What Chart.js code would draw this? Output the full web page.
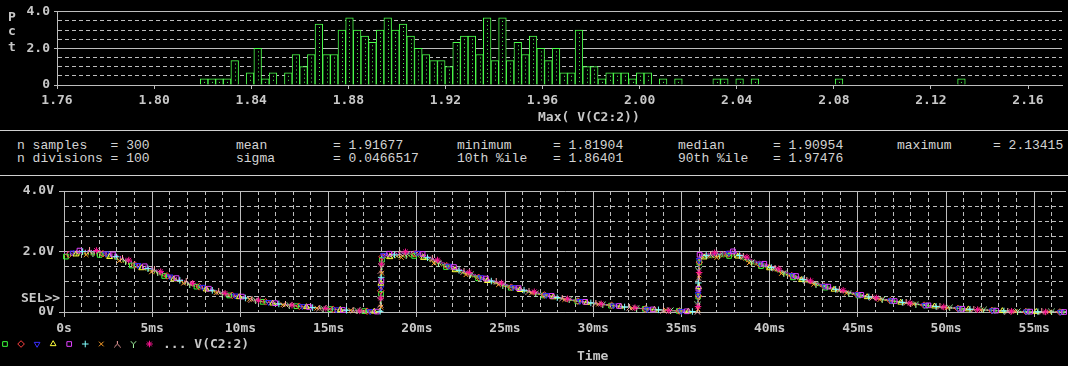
<!DOCTYPE html>
<html lang="en">
<head>
  <meta charset="UTF-8" />
  <title>Monte Carlo - Max( V(C2:2))</title>
  <script src="https://cdn.jsdelivr.net/npm/chart.js"></script>
  <style>
    body { margin: 0; background: #000; }
    #wrap {
      position: relative; width: 1068px; height: 366px; background: #000; overflow: hidden;
      color: #c8c8c8; font-family: 'DejaVu Sans Mono', monospace;
    }
    .lbl { position: absolute; white-space: pre; font-size: 13px; font-weight: bold; line-height: 13px; }
    .st { position: absolute; white-space: pre; font-family: 'Liberation Mono', monospace; font-size: 13px; line-height: 13px; color: #d4d4d4; }
    .sep { position: absolute; left: 0; width: 1068px; height: 1px; background: #cfcfcf; }
    #hist { position: absolute; left: 0; top: 0; }
    #trace { position: absolute; left: 0; top: 177px; }
  </style>
</head>
<body>
<div id="wrap">
  <canvas id="hist" width="1068" height="128"></canvas>
  <canvas id="trace" width="1068" height="189"></canvas>

  <div class="lbl" style="left:8px;top:10px">P</div>
  <div class="lbl" style="left:8px;top:24px">c</div>
  <div class="lbl" style="left:8px;top:40px">t</div>
  <div class="lbl" style="left:538px;top:110px">Max( V(C2:2))</div>

  <div class="sep" style="top:130px"></div>
  <div class="sep" style="top:175px"></div>

  <div class="st" style="left:17px;top:139px">n samples   = 300</div>
  <div class="st" style="left:236px;top:139px">mean</div>
  <div class="st" style="left:333px;top:139px">= 1.91677</div>
  <div class="st" style="left:457px;top:139px">minimum</div>
  <div class="st" style="left:553px;top:139px">= 1.81904</div>
  <div class="st" style="left:678px;top:139px">median</div>
  <div class="st" style="left:773px;top:139px">= 1.90954</div>
  <div class="st" style="left:897px;top:139px">maximum</div>
  <div class="st" style="left:993px;top:139px">= 2.13415</div>
  <div class="st" style="left:17px;top:152px">n divisions = 100</div>
  <div class="st" style="left:236px;top:152px">sigma</div>
  <div class="st" style="left:333px;top:152px">= 0.0466517</div>
  <div class="st" style="left:457px;top:152px">10th %ile</div>
  <div class="st" style="left:553px;top:152px">= 1.86401</div>
  <div class="st" style="left:678px;top:152px">90th %ile</div>
  <div class="st" style="left:773px;top:152px">= 1.97476</div>

  <div class="lbl" style="left:21px;top:291px">SEL&gt;&gt;</div>
  <div class="lbl" style="left:163px;top:337px">... V(C2:2)</div>
  <div class="lbl" style="left:577px;top:349px">Time</div>
</div>

<script>
  // histogram: samples per bin (100 bins between minimum and maximum)
  const nSamples = 300;
  const nDivisions = 100;
  const minimum = 1.81904;
  const maximum = 2.13415;
  const binCounts = [
    1, 1, 1, 1, 4, 0, 2, 6, 1, 2,
    0, 2, 5, 3, 5, 10, 5, 5, 9, 11,
    9, 8, 7, 9, 11, 9, 10, 8, 6, 5,
    4, 4, 3, 7, 8, 8, 5, 11, 4, 11,
    4, 7, 5, 8, 6, 4, 6, 2, 2, 9,
    3, 3, 1, 2, 2, 2, 1, 2, 2, 0,
    1, 0, 1, 0, 0, 0, 0, 1, 1, 0,
    1, 0, 1, 0, 0, 0, 0, 0, 0, 0,
    0, 0, 0, 1, 0, 0, 0, 0, 0, 0,
    0, 0, 0, 0, 0, 0, 0, 0, 0, 1
  ];

  // transient traces, time in ms
  const timeMs = [
    0, 1, 2, 3, 4, 5, 6, 7, 8, 9, 10, 11, 12, 13, 14, 15, 16, 17, 17.92, 17.96, 17.99, 18.03,
    19, 20, 21, 22, 23, 24, 25, 26, 27, 28, 29, 30, 31, 32, 33, 34, 35, 35.92, 35.96, 35.99, 36.03,
    37, 38, 39, 40, 41, 42, 43, 44, 45, 46, 47, 48, 49, 50, 51, 52, 53, 54, 55, 56, 56.8
  ];
  const run1 = [
    1.82, 1.92, 1.89, 1.75, 1.50, 1.34, 1.12, 0.92, 0.76, 0.58, 0.49, 0.36, 0.27, 0.20, 0.15, 0.10, 0.06, 0.03, 0.01, 0.30, 1.10, 1.79,
    1.82, 1.86, 1.63, 1.41, 1.20, 1.02, 0.85, 0.70, 0.57, 0.46, 0.36, 0.28, 0.21, 0.15, 0.10, 0.06, 0.03, 0.01, 0.62, 1.45, 1.78,
    1.81, 1.87, 1.60, 1.44, 1.21, 1.01, 0.83, 0.68, 0.55, 0.44, 0.35, 0.27, 0.20, 0.15, 0.10, 0.07, 0.04, 0.02, 0.01, 0.00, 0.00
  ];
  const run2 = [
    1.87, 1.98, 1.96, 1.81, 1.56, 1.37, 1.16, 0.96, 0.77, 0.61, 0.50, 0.38, 0.28, 0.21, 0.15, 0.10, 0.06, 0.03, 0.01, 0.80, 1.50, 1.85,
    1.88, 1.93, 1.69, 1.46, 1.23, 1.06, 0.87, 0.73, 0.59, 0.48, 0.37, 0.29, 0.22, 0.15, 0.10, 0.06, 0.03, 0.01, 0.25, 1.05, 1.83,
    1.87, 1.94, 1.66, 1.47, 1.26, 1.04, 0.87, 0.70, 0.58, 0.45, 0.36, 0.28, 0.21, 0.15, 0.10, 0.07, 0.04, 0.02, 0.01, 0.00, 0.00
  ];
  const run3 = [
    1.91, 2.01, 1.99, 1.84, 1.58, 1.41, 1.17, 0.97, 0.80, 0.61, 0.51, 0.38, 0.29, 0.22, 0.16, 0.10, 0.06, 0.03, 0.01, 0.45, 1.25, 1.88,
    1.92, 1.96, 1.71, 1.48, 1.27, 1.07, 0.90, 0.73, 0.60, 0.48, 0.38, 0.30, 0.22, 0.15, 0.10, 0.06, 0.03, 0.01, 0.90, 1.60, 1.87,
    1.91, 1.97, 1.68, 1.51, 1.28, 1.06, 0.88, 0.71, 0.58, 0.46, 0.37, 0.29, 0.21, 0.15, 0.10, 0.07, 0.04, 0.02, 0.01, 0.00, 0.00
  ];
  const run4 = [
    1.84, 1.94, 1.91, 1.76, 1.52, 1.35, 1.13, 0.93, 0.76, 0.59, 0.49, 0.36, 0.27, 0.21, 0.15, 0.10, 0.06, 0.03, 0.01, 1.00, 1.70, 1.80,
    1.84, 1.88, 1.65, 1.42, 1.22, 1.03, 0.86, 0.71, 0.58, 0.46, 0.36, 0.28, 0.22, 0.15, 0.10, 0.06, 0.03, 0.01, 0.40, 1.20, 1.80,
    1.83, 1.89, 1.62, 1.45, 1.23, 1.02, 0.84, 0.69, 0.56, 0.44, 0.35, 0.27, 0.21, 0.15, 0.10, 0.07, 0.04, 0.02, 0.01, 0.00, 0.00
  ];
  const run5 = [
    1.96, 2.04, 2.02, 1.87, 1.61, 1.44, 1.20, 0.99, 0.81, 0.62, 0.52, 0.38, 0.29, 0.22, 0.16, 0.10, 0.06, 0.03, 0.01, 0.20, 0.95, 1.91,
    1.95, 2.00, 1.75, 1.51, 1.29, 1.09, 0.92, 0.75, 0.61, 0.49, 0.38, 0.30, 0.23, 0.16, 0.10, 0.06, 0.03, 0.01, 0.70, 1.35, 1.91,
    1.94, 2.01, 1.72, 1.54, 1.30, 1.08, 0.89, 0.73, 0.59, 0.47, 0.37, 0.29, 0.22, 0.16, 0.10, 0.07, 0.04, 0.02, 0.01, 0.00, 0.00
  ];
  const run6 = [
    1.89, 2.00, 1.97, 1.82, 1.57, 1.39, 1.16, 0.96, 0.79, 0.61, 0.50, 0.37, 0.28, 0.21, 0.15, 0.10, 0.06, 0.03, 0.01, 0.65, 1.40, 1.86,
    1.90, 1.94, 1.70, 1.46, 1.25, 1.06, 0.89, 0.73, 0.60, 0.47, 0.37, 0.29, 0.22, 0.15, 0.10, 0.06, 0.03, 0.01, 1.10, 1.75, 1.86,
    1.89, 1.95, 1.67, 1.49, 1.26, 1.05, 0.87, 0.71, 0.58, 0.45, 0.36, 0.28, 0.21, 0.15, 0.10, 0.07, 0.04, 0.02, 0.01, 0.00, 0.00
  ];
  const run7 = [
    1.80, 1.90, 1.87, 1.73, 1.49, 1.32, 1.10, 0.91, 0.75, 0.58, 0.48, 0.36, 0.27, 0.20, 0.14, 0.10, 0.06, 0.03, 0.01, 0.10, 0.70, 1.77,
    1.80, 1.84, 1.61, 1.39, 1.19, 1.01, 0.84, 0.69, 0.57, 0.45, 0.36, 0.28, 0.21, 0.14, 0.10, 0.06, 0.03, 0.01, 0.15, 0.85, 1.77,
    1.80, 1.85, 1.58, 1.42, 1.20, 1.00, 0.83, 0.67, 0.55, 0.43, 0.35, 0.27, 0.20, 0.14, 0.10, 0.07, 0.04, 0.02, 0.01, 0.00, 0.00
  ];
  const run8 = [
    1.93, 2.03, 2.00, 1.85, 1.60, 1.42, 1.18, 0.98, 0.80, 0.62, 0.51, 0.38, 0.29, 0.22, 0.15, 0.10, 0.06, 0.03, 0.01, 1.20, 1.80, 1.90,
    1.93, 1.98, 1.73, 1.49, 1.28, 1.08, 0.91, 0.74, 0.61, 0.48, 0.38, 0.30, 0.23, 0.15, 0.10, 0.06, 0.03, 0.01, 0.55, 1.50, 1.89,
    1.92, 1.99, 1.70, 1.52, 1.29, 1.07, 0.89, 0.72, 0.59, 0.46, 0.37, 0.29, 0.22, 0.15, 0.10, 0.07, 0.04, 0.02, 0.01, 0.00, 0.00
  ];
  const run9 = [
    1.86, 1.96, 1.93, 1.78, 1.53, 1.37, 1.14, 0.94, 0.77, 0.59, 0.50, 0.37, 0.28, 0.21, 0.15, 0.10, 0.06, 0.03, 0.01, 0.35, 1.15, 1.82,
    1.86, 1.90, 1.66, 1.44, 1.23, 1.04, 0.87, 0.71, 0.58, 0.47, 0.37, 0.29, 0.22, 0.15, 0.10, 0.06, 0.03, 0.01, 1.30, 1.65, 1.82,
    1.85, 1.91, 1.63, 1.47, 1.24, 1.03, 0.85, 0.69, 0.56, 0.45, 0.36, 0.28, 0.21, 0.15, 0.10, 0.07, 0.04, 0.02, 0.01, 0.00, 0.00
  ];
  const run10 = [
    1.97, 2.05, 2.03, 1.89, 1.63, 1.45, 1.21, 1.00, 0.82, 0.63, 0.53, 0.39, 0.29, 0.22, 0.16, 0.11, 0.06, 0.03, 0.01, 0.55, 1.60, 1.93,
    1.97, 2.02, 1.76, 1.52, 1.30, 1.10, 0.92, 0.76, 0.62, 0.49, 0.39, 0.30, 0.23, 0.16, 0.11, 0.06, 0.03, 0.01, 0.35, 1.00, 1.93,
    1.96, 2.03, 1.73, 1.55, 1.31, 1.09, 0.90, 0.74, 0.60, 0.47, 0.38, 0.29, 0.22, 0.16, 0.11, 0.07, 0.04, 0.02, 0.01, 0.00, 0.00
  ];
  const runs = [run1, run2, run3, run4, run5, run6, run7, run8, run9, run10];
  const runColours = ['#3cff3c', '#ff4040', '#3a2cff', '#ffff3c', '#e040ff', '#80ffff', '#ffa028', '#ffa8a8', '#a8ffa8', '#ff1493'];

  const GRID = '#bdbdbd';
  const TXT = '#c8c8c8';
  const BAR = '#4cff4c';
  const FONT = { family: "'DejaVu Sans Mono', monospace", size: 13, weight: 'bold' };
  const MARK_STEP = 34;   // px between symbols along one trace

  // small marker images for the Y shaped symbols
  function yGlyph(colour, turned) {
    const c = document.createElement('canvas');
    c.width = 7; c.height = 7;
    const g = c.getContext('2d');
    g.strokeStyle = colour;
    g.lineWidth = 1;
    g.beginPath();
    if (turned) {
      g.moveTo(3.5, 0); g.lineTo(3.5, 3.5);
      g.lineTo(0.5, 6.5); g.moveTo(3.5, 3.5); g.lineTo(6.5, 6.5);
    } else {
      g.moveTo(0.5, 0.5); g.lineTo(3.5, 3.5);
      g.lineTo(6.5, 0.5); g.moveTo(3.5, 3.5); g.lineTo(3.5, 7);
    }
    g.stroke();
    return c;
  }
  const runStyles = ['rect', 'rectRot', 'triangle', 'triangle', 'rect', 'cross', 'crossRot',
    yGlyph(runColours[7], true), yGlyph(runColours[8], false), 'star'];
  const runRotation = [0, 0, 180, 0, 0, 0, 0, 0, 0, 0];

  function mark(ctx, i, x, y) {
    ctx.save();
    ctx.strokeStyle = runColours[i];
    ctx.fillStyle = 'rgba(0,0,0,0)';
    ctx.lineWidth = 1;
    ctx.setLineDash([]);
    Chart.helpers.drawPoint(ctx, { pointStyle: runStyles[i], rotation: runRotation[i], radius: 3.3, borderWidth: 1 }, x, y);
    ctx.restore();
  }

  // ---------- histogram ----------
  const binWidth = (maximum - minimum) / nDivisions;
  const histPoints = binCounts.map((n, i) => ({ x: minimum + (i + 0.5) * binWidth, y: n * 100 / nSamples }));

  const centreDots = {
    id: 'centreDots',
    afterDatasetsDraw(chart) {
      const ctx = chart.ctx;
      ctx.save();
      ctx.strokeStyle = BAR;
      ctx.lineWidth = 1;
      ctx.setLineDash([1, 3]);
      chart.getDatasetMeta(0).data.forEach(bar => {
        if (bar.base - bar.y < 5) return;
        const x = Math.round(bar.x) + 0.5;
        ctx.beginPath();
        ctx.moveTo(x, bar.y + 3);
        ctx.lineTo(x, bar.base - 1);
        ctx.stroke();
      });
      ctx.restore();
    }
  };

  new Chart(document.getElementById('hist'), {
    type: 'bar',
    data: {
      datasets: [{
        data: histPoints,
        backgroundColor: '#000',
        borderColor: BAR,
        borderWidth: 1,
        borderSkipped: 'bottom',
        barPercentage: 1,
        categoryPercentage: 1
      }]
    },
    options: {
      responsive: false,
      animation: false,
      events: [],
      layout: { padding: { top: 8, right: 6, left: 0, bottom: 0 } },
      plugins: { legend: { display: false }, tooltip: { enabled: false } },
      scales: {
        x: {
          type: 'linear', min: 1.76, max: 2.174, offset: false,
          ticks: { stepSize: 0.04, includeBounds: false, autoSkip: false, maxRotation: 0, color: TXT, font: FONT, padding: 4,
                   callback: v => v.toFixed(2) },
          grid: { offset: false, drawOnChartArea: false, drawTicks: true, tickLength: 4, tickColor: GRID },
          border: { color: GRID },
          afterFit: s => { s.height = 43; }
        },
        y: {
          min: 0, max: 4,
          ticks: { stepSize: 0.5, autoSkip: false, color: TXT, font: FONT, padding: 4,
                   callback: v => v === 0 ? '0' : (v % 2 === 0 ? v.toFixed(1) : '') },
          grid: { color: GRID, tickLength: 3, tickColor: c => (c.tick && c.tick.value % 2 === 0) ? GRID : 'rgba(0,0,0,0)' },
          border: { color: GRID, dash: c => (c.tick && c.tick.value % 2 !== 0) ? [4, 3] : [] },
          afterFit: s => { s.width = 57; }
        }
      }
    },
    plugins: [centreDots]
  });

  // ---------- transient traces ----------
  // symbols are laid along each trace at a fixed pixel pitch, staggered per run
  const traceSymbols = {
    id: 'traceSymbols',
    afterDatasetsDraw(chart) {
      const ctx = chart.ctx;
      chart.data.datasets.forEach((ds, i) => {
        const pts = chart.getDatasetMeta(i).data;
        let next = 2 + i * (MARK_STEP / runs.length);
        let run = 0;
        for (let j = 1; j < pts.length; j++) {
          const a = pts[j - 1], b = pts[j];
          const len = Math.hypot(b.x - a.x, b.y - a.y);
          while (run + len >= next) {
            const f = (next - run) / len;
            mark(ctx, i, a.x + f * (b.x - a.x), a.y + f * (b.y - a.y));
            next += MARK_STEP;
          }
          run += len;
        }
      });
    },
    afterDraw(chart) {
      const ctx = chart.ctx;
      runs.forEach((r, i) => mark(ctx, i, 5 + i * 16.05, 167));
    }
  };

  new Chart(document.getElementById('trace'), {
    type: 'line',
    data: {
      datasets: runs.map((r, i) => ({
        data: timeMs.map((t, j) => ({ x: t, y: r[j] })),
        borderColor: runColours[i],
        borderWidth: 1,
        borderDash: [1, 2],
        tension: 0,
        pointRadius: 0
      }))
    },
    options: {
      responsive: false,
      animation: false,
      events: [],
      layout: { padding: { top: 14, right: 2, left: 0, bottom: 0 } },
      plugins: { legend: { display: false }, tooltip: { enabled: false } },
      scales: {
        x: {
          type: 'linear', min: 0, max: 56.8,
          ticks: { stepSize: 1, includeBounds: false, autoSkip: false, maxRotation: 0, color: TXT, font: FONT, padding: 4,
                   callback: v => v % 5 === 0 ? (v === 0 ? '0s' : v + 'ms') : '' },
          grid: { color: GRID, tickLength: 5, tickColor: c => (c.tick && c.tick.value % 5 === 0) ? GRID : 'rgba(0,0,0,0)' },
          border: { color: GRID, dash: c => (c.tick && c.tick.value % 5 !== 0) ? [4, 3] : [] },
          afterFit: s => { s.height = 54; }
        },
        y: {
          min: 0, max: 4,
          ticks: { stepSize: 0.5, autoSkip: false, color: TXT, font: FONT, padding: 5,
                   callback: v => v === 0 ? '0V' : (v % 2 === 0 ? v.toFixed(1) + 'V' : '') },
          grid: { color: GRID, tickLength: 5, tickColor: c => (c.tick && c.tick.value % 2 === 0) ? GRID : 'rgba(0,0,0,0)' },
          border: { color: GRID, dash: c => (c.tick && c.tick.value % 2 !== 0) ? [4, 3] : [] },
          afterFit: s => { s.width = 64; }
        }
      }
    },
    plugins: [traceSymbols]
  });
</script>
</body>
</html>
